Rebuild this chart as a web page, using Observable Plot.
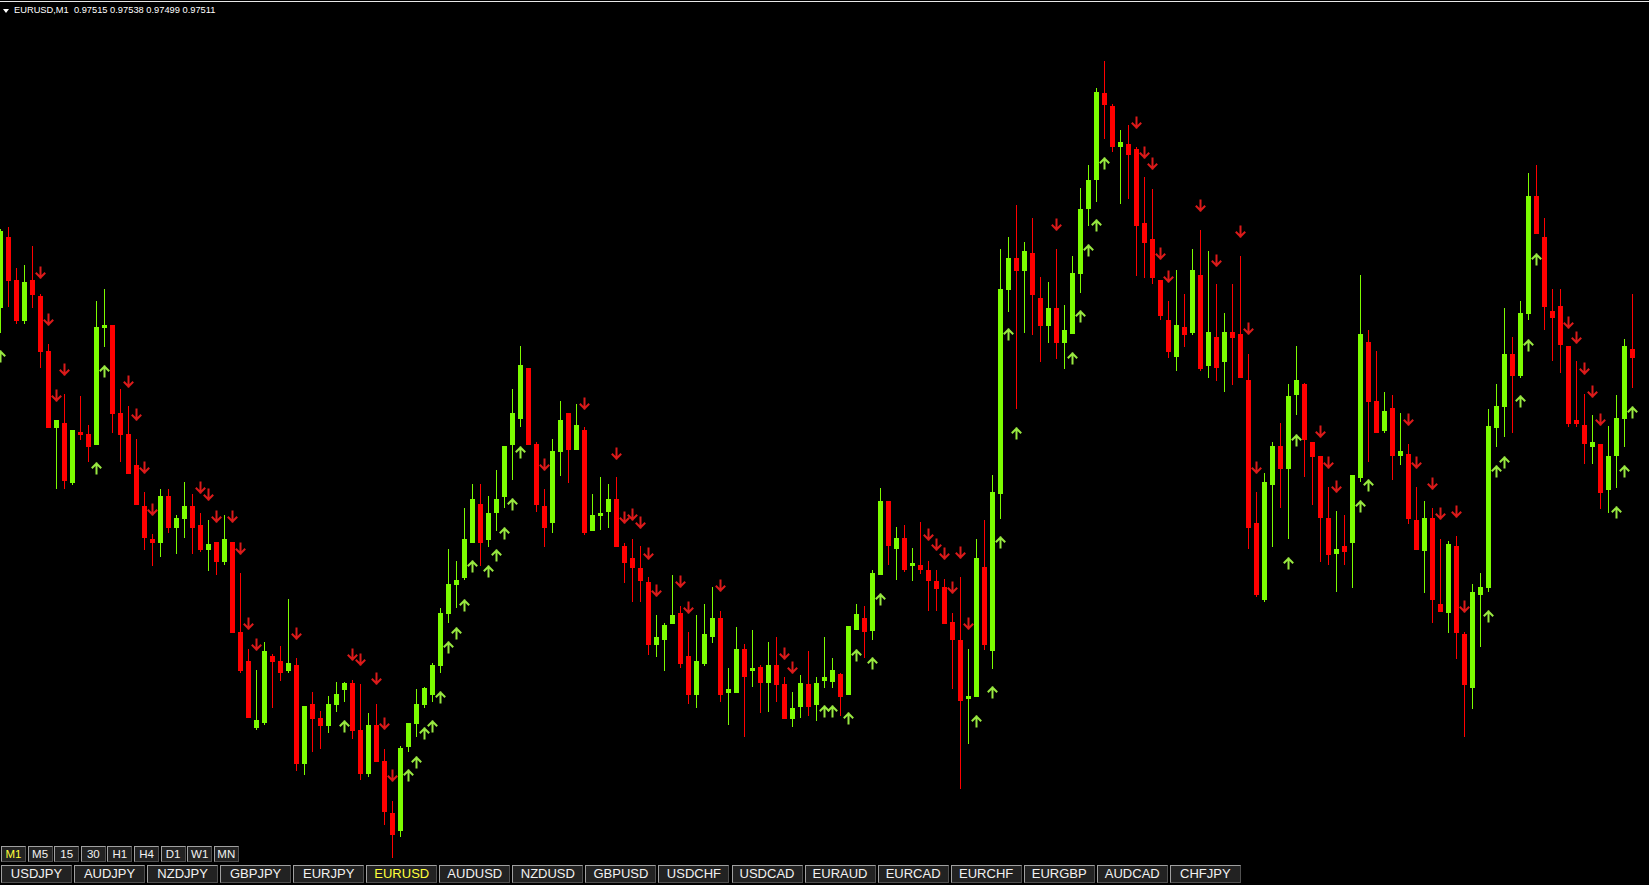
<!DOCTYPE html>
<html><head><meta charset="utf-8">
<script src="https://cdn.jsdelivr.net/npm/d3@7"></script>
<script src="https://cdn.jsdelivr.net/npm/@observablehq/plot@0.6"></script>
<style>
html,body{margin:0;padding:0;background:#000;overflow:hidden}
#wrap{position:relative;width:1649px;height:885px;background:#000;font-family:"Liberation Sans",Arial,sans-serif;overflow:hidden}
#chart{position:absolute;left:0;top:0}
#topline{position:absolute;left:0;top:1px;width:1649px;height:1px;background:#e8e8e8}
#hdr{position:absolute;left:14px;top:4px;color:#fff;font-size:9.3px;line-height:12px;white-space:pre}
#tri{position:absolute;left:3px;top:9px;width:0;height:0;border-left:3px solid transparent;border-right:3px solid transparent;border-top:4px solid #fff}
.btn{position:absolute;box-sizing:border-box;background:#222;border:1px solid;border-color:#a0a0a0 #505050 #505050 #a0a0a0;color:#f2f2f2;text-align:center;white-space:nowrap}
.tf{top:846px;height:16px;width:25px;font-size:11.5px;line-height:14px}
.sym{top:865px;height:18px;width:71px;font-size:13px;line-height:16px}
.act{color:#ffff3c}
</style></head>
<body><div id="wrap"><div id="chart"></div><div id="topline"></div><div id="tri"></div><div id="hdr"></div></div>
<script>
const headerText = "EURUSD,M1  0.97515 0.97538 0.97499 0.97511";
const timeframes = ["M1","M5","15","30","H1","H4","D1","W1","MN"];
const activeTimeframe = "M1";
const symbols = ["USDJPY","AUDJPY","NZDJPY","GBPJPY","EURJPY","EURUSD","AUDUSD","NZDUSD","GBPUSD","USDCHF","USDCAD","EURAUD","EURCAD","EURCHF","EURGBP","AUDCAD","CHFJPY"];
const activeSymbol = "EURUSD";

// prices in points (1e-5)
const open = [
97559,97630,97587,97546,97587,97571,97516,97439,97444,97384,
97435,97433,97422,97539,97542,97454,97433,97402,97361,97328,
97324,97371,97339,97348,97361,97342,97317,97325,97305,97325,
97235,97206,97139,97144,97211,97206,97196,97202,97103,97163,
97149,97141,97162,97177,97184,97137,97093,97142,97106,97054,
97036,97120,97143,97162,97172,97201,97253,97282,97289,97324,
97363,97327,97354,97370,97422,97448,97499,97423,97361,97344,
97415,97454,97417,97437,97336,97351,97355,97368,97321,97309,
97299,97285,97222,97227,97243,97254,97211,97172,97203,97230,
97249,97174,97174,97218,97196,97200,97184,97202,97183,97148,
97160,97183,97162,97186,97185,97193,97172,97237,97249,97236,
97292,97366,97318,97329,97301,97302,97297,97286,97280,97245,
97227,97168,97170,97300,97216,97373,97577,97609,97596,97614,
97569,97541,97559,97524,97533,97593,97658,97687,97774,97761,
97720,97723,97718,97644,97628,97587,97547,97510,97540,97534,
97592,97501,97530,97505,97535,97533,97487,97344,97267,97382,
97421,97398,97472,97483,97425,97411,97349,97313,97321,97324,
97389,97525,97466,97436,97459,97411,97413,97347,97316,97349,
97263,97254,97321,97233,97179,97272,97279,97439,97460,97513,
97491,97553,97671,97630,97556,97561,97521,97447,97442,97420,
97423,97377,97411,97448,97518];
const high = [
97638,97640,97599,97602,97621,97573,97523,97447,97473,97437,
97471,97442,97566,97578,97542,97478,97461,97428,97375,97333,
97378,97378,97352,97385,97373,97354,97347,97325,97352,97325,
97294,97218,97197,97225,97213,97221,97268,97209,97161,97175,
97156,97171,97185,97185,97187,97183,97154,97163,97118,97066,
97121,97144,97178,97180,97204,97259,97318,97306,97359,97383,
97383,97371,97397,97421,97478,97521,97499,97425,97378,97428,
97466,97454,97463,97440,97373,97390,97383,97390,97324,97328,
97321,97290,97252,97244,97292,97261,97235,97252,97263,97280,
97256,97199,97240,97223,97237,97202,97225,97230,97190,97175,
97192,97216,97190,97230,97209,97194,97241,97263,97261,97297,
97379,97366,97340,97342,97319,97345,97306,97297,97288,97254,
97290,97218,97328,97347,97392,97618,97630,97662,97625,97649,
97590,97585,97618,97562,97611,97679,97702,97779,97806,97763,
97737,97742,97720,97690,97678,97587,97566,97597,97573,97618,
97637,97616,97583,97554,97583,97611,97513,97375,97394,97425,
97444,97483,97521,97484,97425,97411,97380,97356,97352,97392,
97592,97537,97516,97475,97472,97454,97423,97380,97366,97359,
97328,97326,97331,97235,97283,97294,97458,97483,97559,97530,
97566,97694,97702,97649,97578,97578,97521,97506,97473,97452,
97423,97441,97472,97528,97573];
const low = [
97534,97560,97543,97543,97559,97499,97439,97378,97378,97382,
97427,97405,97422,97520,97434,97405,97393,97362,97317,97301,
97310,97334,97313,97329,97313,97315,97296,97292,97302,97234,
97194,97149,97137,97142,97159,97186,97194,97096,97092,97115,
97118,97134,97155,97165,97128,97087,97090,97105,97042,97009,
97030,97115,97130,97159,97165,97194,97244,97259,97287,97324,
97301,97320,97336,97359,97387,97440,97422,97355,97320,97334,
97391,97384,97417,97332,97336,97337,97339,97320,97284,97265,
97265,97212,97210,97196,97243,97199,97163,97159,97201,97224,
97165,97142,97174,97130,97180,97154,97155,97165,97148,97140,
97149,97151,97146,97179,97179,97151,97172,97237,97209,97227,
97292,97302,97287,97295,97286,97293,97256,97256,97243,97178,
97078,97123,97170,97217,97198,97348,97555,97458,97534,97532,
97505,97524,97508,97498,97533,97574,97641,97665,97728,97715,
97663,97668,97591,97589,97583,97547,97509,97496,97520,97532,
97496,97489,97486,97475,97482,97489,97318,97270,97265,97320,
97359,97328,97452,97390,97362,97305,97302,97275,97302,97279,
97385,97405,97434,97434,97387,97402,97343,97317,97274,97244,
97255,97234,97208,97130,97158,97220,97275,97420,97430,97434,
97489,97547,97633,97537,97506,97494,97440,97440,97403,97403,
97358,97354,97379,97420,97479];
const close = [
97636,97586,97546,97585,97572,97515,97439,97447,97386,97437,
97432,97420,97540,97542,97453,97432,97393,97362,97329,97324,
97371,97339,97349,97361,97339,97317,97323,97305,97328,97234,
97196,97149,97147,97216,97205,97194,97204,97103,97161,97148,
97141,97163,97173,97184,97136,97093,97142,97105,97055,97032,
97119,97144,97163,97179,97202,97254,97283,97287,97328,97368,
97324,97354,97368,97421,97454,97502,97422,97362,97339,97416,
97447,97417,97442,97334,97352,97354,97368,97320,97304,97299,
97286,97222,97230,97242,97252,97203,97172,97206,97233,97249,
97172,97178,97218,97190,97199,97184,97202,97182,97148,97159,
97184,97160,97184,97190,97197,97170,97241,97253,97235,97294,
97366,97321,97329,97297,97304,97297,97286,97278,97243,97227,
97166,97171,97309,97222,97375,97578,97609,97596,97616,97572,
97541,97559,97524,97537,97594,97658,97687,97775,97762,97720,
97725,97712,97641,97624,97589,97551,97515,97542,97532,97597,
97498,97535,97499,97535,97529,97489,97339,97272,97385,97421,
97398,97471,97487,97427,97410,97349,97312,97318,97315,97392,
97533,97465,97434,97456,97411,97416,97348,97317,97349,97267,
97255,97323,97234,97182,97275,97280,97441,97461,97513,97491,
97554,97671,97633,97560,97549,97522,97443,97443,97423,97425,
97374,97411,97449,97521,97509];

const downArrowBar = [5,6,7,8,16,17,18,19,25,26,27,29,30,31,32,37,44,45,47,48,49,68,73,77,78,79,80,81,82,85,86,90,98,99,116,117,118,119,120,121,132,142,143,144,145,146,150,152,155,156,157,165,166,167,176,177,179,180,182,183,196,197,198,199,200];
const downArrowPrice = [97595,97548,97472,97498,97486,97453,97400,97358,97380,97373,97351,97351,97319,97244,97223,97234,97213,97208,97189,97144,97092,97403,97464,97414,97350,97353,97345,97314,97277,97286,97260,97282,97214,97200,97333,97323,97314,97280,97315,97244,97643,97745,97715,97704,97614,97591,97662,97607,97636,97539,97400,97436,97405,97381,97448,97405,97384,97354,97356,97261,97545,97530,97499,97476,97448];
const upArrowBar = [0,12,13,43,51,52,53,54,55,56,57,58,59,61,62,63,64,65,103,104,106,107,109,110,122,124,125,126,127,134,135,136,137,138,161,162,170,171,186,187,188,190,191,192,202,203,204];
const upArrowPrice = [97511,97399,97496,97141,97092,97105,97134,97141,97170,97220,97234,97262,97301,97296,97312,97334,97363,97415,97156,97156,97149,97212,97204,97268,97146,97175,97325,97533,97434,97509,97551,97617,97642,97704,97304,97427,97361,97382,97251,97396,97405,97466,97522,97608,97355,97396,97455];

const UP = "#7cfc00", DOWN = "#ff0000";
const candles = open.map((o, i) => ({
  i, open: o / 1e5, high: high[i] / 1e5, low: low[i] / 1e5, close: close[i] / 1e5,
  color: close[i] >= o ? UP : DOWN
}));
const downs = downArrowBar.map((b, j) => ({i: b, p: downArrowPrice[j] / 1e5}));
const ups = upArrowBar.map((b, j) => ({i: b, p: upArrowPrice[j] / 1e5}));

// MetaTrader-style arrow glyph: shaft with a wide chevron head
const mtArrow = {
  draw(context, l) {
    context.moveTo(0, 0);
    context.lineTo(0, -l);
    context.moveTo(-4, -l + 4);
    context.lineTo(0, -l);
    context.lineTo(4, -l + 4);
  }
};

const chart = Plot.plot({
  width: 1649, height: 885, margin: 0,
  x: {type: "linear", domain: [0, 206.125], axis: null},
  y: {type: "linear", domain: [0.96982, 0.97867], axis: null},
  style: {background: "#000", overflow: "hidden"},
  marks: [
    Plot.ruleX(candles, {x: "i", y1: "low", y2: "high", stroke: "color", strokeWidth: 1, shapeRendering: "crispEdges"}),
    Plot.ruleX(candles, {x: "i", y1: "open", y2: "close", stroke: "color", strokeWidth: 5, shapeRendering: "crispEdges"}),
    Plot.vector(downs, {x: "i", y: "p", length: 10, rotate: 180, anchor: "middle", shape: mtArrow, stroke: "#dc1a1a", strokeWidth: 2, strokeLinecap: "square", strokeLinejoin: "miter"}),
    Plot.vector(ups, {x: "i", y: "p", length: 10, rotate: 0, anchor: "middle", shape: mtArrow, stroke: "#98e840", strokeWidth: 2, strokeLinecap: "square", strokeLinejoin: "miter"})
  ]
});
document.getElementById("chart").appendChild(chart);
document.getElementById("hdr").textContent = headerText;

const wrap = d3.select("#wrap");
timeframes.forEach((t, i) => {
  wrap.append("div").attr("class", "btn tf" + (t === activeTimeframe ? " act" : ""))
    .style("left", (1 + i * 26.6) + "px").text(t);
});
symbols.forEach((s, i) => {
  wrap.append("div").attr("class", "btn sym" + (s === activeSymbol ? " act" : ""))
    .style("left", (1 + i * 73.05) + "px").text(s);
});
</script>
</body></html>
